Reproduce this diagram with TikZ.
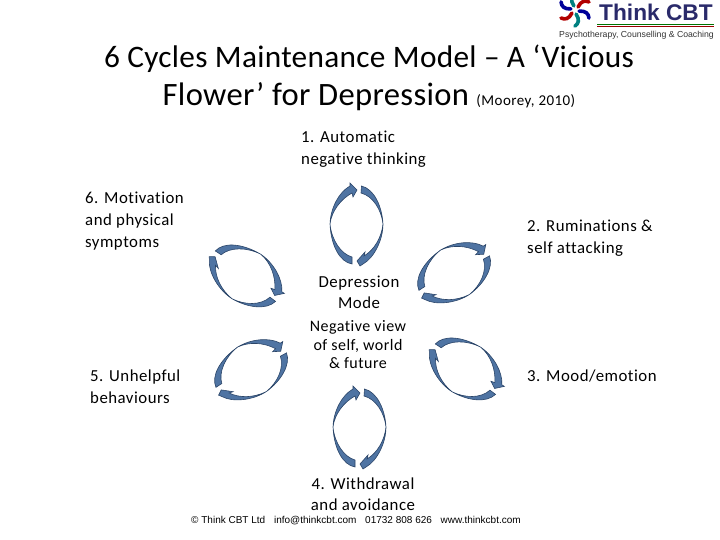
\documentclass[tikz,border=0pt]{standalone}
\usepackage{fontspec}
\setmainfont[LetterSpace=3,Ligatures=NoCommon]{Carlito}
\newfontfamily\titlefont[LetterSpace=1,Ligatures=NoCommon]{Carlito}
\newfontfamily\logofont{Liberation Sans}
\definecolor{arcblue}{HTML}{4F74A3}
\definecolor{arcedge}{HTML}{2B4568}
\definecolor{logonavy}{HTML}{2A2A6A}
\tikzset{
	label/.style={inner sep=0pt,align=left,anchor=west,font=\fontsize{16.8}{22}\selectfont},
	labelmid/.style={inner sep=0pt,align=center,font=\fontsize{16.8}{21}\selectfont},
	cyclearc/.style={fill=arcblue,draw=arcedge,line width=.6pt,line join=miter},
	blade/.style={line width=3.6pt,line cap=round},
	cycleloop/.pic={
		\draw[cyclearc] (-4,38) .. controls (-16,36) and (-25,20) .. (-26,-2)
			.. controls (-25.5,-18) and (-17,-34) .. (-6,-40)
			-- (-6,-43) -- (1,-36) -- (-3,-29) -- (-4,-33)
			.. controls (-15,-27) and (-24.5,-15) .. (-26,-2)
			.. controls (-24.5,14) and (-15,28) .. (-4,31) -- cycle;
		\draw[cyclearc] (5.5,-40) .. controls (18,-37) and (26,-20) .. (27,-2)
			.. controls (27,14) and (18,32) .. (7,38)
			-- (4,40) -- (1,35) -- (9,26) -- (8,30)
			.. controls (18,24) and (25.5,12) .. (27,-2)
			.. controls (25.5,-16) and (17,-30) .. (5,-33) -- cycle;
	}
}
\begin{document}
\begin{tikzpicture}[x=1pt,y=-1pt]
	\useasboundingbox (0,0) rectangle (720,540);
	% title
	\node[inner sep=0pt,align=center,font=\titlefont\fontsize{31.3}{38}\selectfont] (title) at (369,78)
		{6 Cycles Maintenance Model – A ‘Vicious\\{\fontsize{32.6}{38}\selectfont Flower’ for Depression} {\normalfont\fontsize{15}{38}\selectfont (Moorey, 2010)}\hspace{17pt}};
	% labels
	\node[label] (auto) at (301,149) {1. Automatic\\negative thinking};
	\node[label] (rumin) at (527,238) {2. Ruminations \&\\self attacking};
	\node[label] (mood) at (527,376) {3. Mood/emotion};
	\node[labelmid] (withd) at (363,494) {4. Withdrawal\\and avoidance};
	\node[label] (behav) at (90,387) {5. Unhelpful\\behaviours};
	\node[label] (motiv) at (85,221) {6. Motivation\\and physical\\symptoms};
	\node[labelmid] (mode) at (359,292) {Depression\\Mode};
	\node[labelmid,font=\fontsize{16}{18.5}\selectfont] (view) at (358,345) {Negative view\\of self, world\\\& future};
	% the six loops
	\pic at (356,226) {cycleloop};
	\pic[rotate=-57] at (453,273) {cycleloop};
	\pic[rotate=-123] at (465,368) {cycleloop};
	\pic at (359,429) {cycleloop};
	\pic[rotate=-57] at (250,370) {cycleloop};
	\pic[rotate=-123] at (245,275) {cycleloop};
	% footer
	\node[inner sep=0pt,font=\logofont\fontsize{10}{11}\selectfont] (footer) at (356,521)
		{© Think CBT Ltd\hspace{6pt} info@thinkcbt.com\hspace{6pt} 01732 808 626\hspace{6pt} www.thinkcbt.com};
	% logo
	\foreach \ang/\col in {0/red!70!black,60/teal,120/blue!60!black,180/red!70!black,240/teal,300/blue!60!black}
		\draw[blade,color=\col,rotate around={\ang:(575,10)}] (578,7) .. controls (581,1) and (585,0) .. (589,2);
	\node[inner sep=0pt,anchor=base west,text=logonavy,font=\logofont\bfseries\fontsize{22.7}{24}\selectfont] (logoname) at (599,20.5) {Think CBT};
	\draw[green!45!black,line width=.8pt] (597,24) -- (714,24);
	\draw[red!60!black,line width=.8pt] (597,26) -- (714,26);
	\node[inner sep=0pt,anchor=base west,text=black!80,font=\logofont\fontsize{8.7}{9}\selectfont] (logotag) at (559,37.5) {Psychotherapy, Counselling \& Coaching};
\end{tikzpicture}
\end{document}
